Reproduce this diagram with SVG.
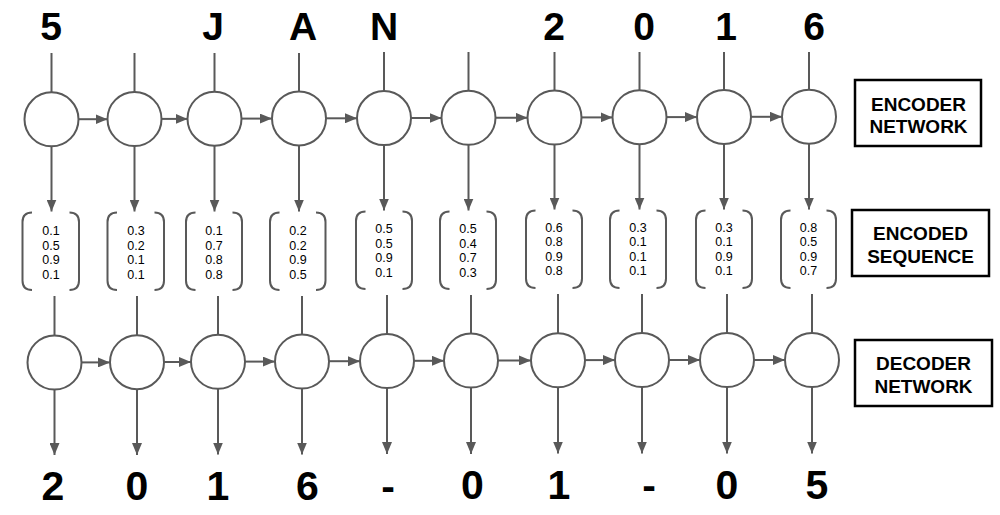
<svg xmlns="http://www.w3.org/2000/svg" width="1000" height="515" viewBox="0 0 1000 515">
  <style>
    .node{fill:#fff;stroke:#595959;stroke-width:2}
    .ln{stroke:#595959;stroke-width:2;fill:none}
    .arr{stroke:#595959;stroke-width:2;fill:none;marker-end:url(#ah)}
    .br{stroke:#595959;stroke-width:2;fill:none}
    .big{font-family:"Liberation Sans",Arial,sans-serif;font-weight:bold;fill:#000;text-anchor:middle}
    .top{font-size:39px}
    .bot{font-size:41px}
    .num{font-family:"Liberation Sans",Arial,sans-serif;font-size:12.5px;fill:#000;text-anchor:middle}
    .box{fill:#fff;stroke:#000;stroke-width:2.5}
    .lbl{font-family:"Liberation Sans",Arial,sans-serif;font-weight:bold;font-size:19px;fill:#000;text-anchor:middle}
  </style>
  <defs>
    <marker id="ah" markerUnits="userSpaceOnUse" markerWidth="12" markerHeight="10" refX="12" refY="5" orient="auto">
      <path d="M0,0 L12,5 L0,10 z" fill="#595959"/>
    </marker>
  </defs>
  <rect width="1000" height="515" fill="#fff"/>

  <!-- input labels -->
  <g id="inputs">
    <text class="big top" x="51" y="39.5">5</text>
    <text class="big top" x="213" y="39.5">J</text>
    <text class="big top" x="303" y="39.5">A</text>
    <text class="big top" x="384" y="39.5">N</text>
    <text class="big top" x="554" y="39.5">2</text>
    <text class="big top" x="644" y="39.5">0</text>
    <text class="big top" x="726" y="39.5">1</text>
    <text class="big top" x="814" y="39.5">6</text>
  </g>

  <!-- connectors -->
  <g id="connectors">
    <!-- input lines -->
    <line class="ln" x1="51.5" y1="53" x2="51.5" y2="92.3"/>
    <line class="ln" x1="134.5" y1="53" x2="134.5" y2="92"/>
    <line class="ln" x1="214.5" y1="53" x2="214.5" y2="91.7"/>
    <line class="ln" x1="299" y1="53" x2="299" y2="91.4"/>
    <line class="ln" x1="384" y1="52" x2="384" y2="91.1"/>
    <line class="ln" x1="468.5" y1="52" x2="468.5" y2="90.8"/>
    <line class="ln" x1="554.5" y1="52" x2="554.5" y2="90.5"/>
    <line class="ln" x1="639.5" y1="52" x2="639.5" y2="90.2"/>
    <line class="ln" x1="724" y1="52" x2="724" y2="89.9"/>
    <line class="ln" x1="809" y1="52" x2="809" y2="89.7"/>
    <!-- encoder horizontal -->
    <line class="arr" x1="78.5" y1="119.2" x2="107.5" y2="119.2"/>
    <line class="arr" x1="161.5" y1="118.9" x2="187.5" y2="118.9"/>
    <line class="arr" x1="241.5" y1="118.6" x2="272" y2="118.6"/>
    <line class="arr" x1="326" y1="118.3" x2="357" y2="118.3"/>
    <line class="arr" x1="411" y1="118" x2="441.5" y2="118"/>
    <line class="arr" x1="495.5" y1="117.7" x2="527.5" y2="117.7"/>
    <line class="arr" x1="581.5" y1="117.4" x2="612.5" y2="117.4"/>
    <line class="arr" x1="666.5" y1="117.1" x2="697" y2="117.1"/>
    <line class="arr" x1="751" y1="116.8" x2="782" y2="116.8"/>
    <!-- encoder to encoded sequence -->
    <line class="arr" x1="51.5" y1="146.3" x2="51.5" y2="211.5"/>
    <line class="arr" x1="134.5" y1="146" x2="134.5" y2="211.5"/>
    <line class="arr" x1="214.5" y1="145.7" x2="214.5" y2="211.5"/>
    <line class="arr" x1="299" y1="145.4" x2="299" y2="211.5"/>
    <line class="arr" x1="384" y1="145.1" x2="384" y2="210.5"/>
    <line class="arr" x1="468.5" y1="144.8" x2="468.5" y2="210.5"/>
    <line class="arr" x1="554.5" y1="144.5" x2="554.5" y2="209.5"/>
    <line class="arr" x1="639.5" y1="144.2" x2="639.5" y2="209.5"/>
    <line class="arr" x1="724" y1="143.9" x2="724" y2="209.5"/>
    <line class="arr" x1="809" y1="143.7" x2="809" y2="209.5"/>
    <!-- encoded sequence to decoder -->
    <line class="ln" x1="54.5" y1="296" x2="54.5" y2="335.5"/>
    <line class="ln" x1="137" y1="296" x2="137" y2="335.2"/>
    <line class="ln" x1="218" y1="296" x2="218" y2="334.8"/>
    <line class="ln" x1="302" y1="296" x2="302" y2="334.5"/>
    <line class="ln" x1="387" y1="295" x2="387" y2="334"/>
    <line class="ln" x1="471" y1="295" x2="471" y2="333.5"/>
    <line class="ln" x1="558" y1="294" x2="558" y2="333.3"/>
    <line class="ln" x1="642" y1="294" x2="642" y2="333"/>
    <line class="ln" x1="727" y1="294" x2="727" y2="333"/>
    <line class="ln" x1="812" y1="294" x2="812" y2="333"/>
    <!-- decoder horizontal -->
    <line class="arr" x1="81.5" y1="362.4" x2="110" y2="362.4"/>
    <line class="arr" x1="164" y1="362" x2="191" y2="362"/>
    <line class="arr" x1="245" y1="361.6" x2="275" y2="361.6"/>
    <line class="arr" x1="329" y1="361.2" x2="360" y2="361.2"/>
    <line class="arr" x1="414" y1="360.8" x2="444" y2="360.8"/>
    <line class="arr" x1="498" y1="360.4" x2="531" y2="360.4"/>
    <line class="arr" x1="585" y1="360.1" x2="615" y2="360.1"/>
    <line class="arr" x1="669" y1="360" x2="700" y2="360"/>
    <line class="arr" x1="754" y1="360" x2="785" y2="360"/>
    <!-- decoder outputs -->
    <line class="arr" x1="54.5" y1="389.5" x2="54.5" y2="455"/>
    <line class="arr" x1="137" y1="389.2" x2="137" y2="455"/>
    <line class="arr" x1="218" y1="388.8" x2="218" y2="454.5"/>
    <line class="arr" x1="302" y1="388.5" x2="302" y2="454.5"/>
    <line class="arr" x1="387" y1="388" x2="387" y2="454"/>
    <line class="arr" x1="471" y1="387.5" x2="471" y2="454"/>
    <line class="arr" x1="558" y1="387.3" x2="558" y2="453.5"/>
    <line class="arr" x1="642" y1="387" x2="642" y2="453.5"/>
    <line class="arr" x1="727" y1="387" x2="727" y2="453.5"/>
    <line class="arr" x1="812" y1="387" x2="812" y2="453.5"/>
  </g>

  <!-- encoder nodes -->
  <g id="encoder">
    <circle id="enc1" class="node" cx="51.5" cy="119.3" r="27"/>
    <circle id="enc2" class="node" cx="134.5" cy="119" r="27"/>
    <circle id="enc3" class="node" cx="214.5" cy="118.7" r="27"/>
    <circle id="enc4" class="node" cx="299" cy="118.4" r="27"/>
    <circle id="enc5" class="node" cx="384" cy="118.1" r="27"/>
    <circle id="enc6" class="node" cx="468.5" cy="117.8" r="27"/>
    <circle id="enc7" class="node" cx="554.5" cy="117.5" r="27"/>
    <circle id="enc8" class="node" cx="639.5" cy="117.2" r="27"/>
    <circle id="enc9" class="node" cx="724" cy="116.9" r="27"/>
    <circle id="enc10" class="node" cx="809" cy="116.7" r="27"/>
  </g>

  <!-- encoded vectors -->
  <g id="vec1">
    <path class="br" d="M32,212.5 Q22.5,212.5 22.5,222 V280.5 Q22.5,290 32,290 M69.5,212.5 Q79,212.5 79,222 V280.5 Q79,290 69.5,290"/>
    <text class="num" x="51" y="235">0.1</text><text class="num" x="51" y="249.5">0.5</text><text class="num" x="51" y="264">0.9</text><text class="num" x="51" y="278.5">0.1</text>
  </g>
  <g id="vec2">
    <path class="br" d="M117,212.5 Q107.5,212.5 107.5,222 V280.5 Q107.5,290 117,290 M154.5,212.5 Q164,212.5 164,222 V280.5 Q164,290 154.5,290"/>
    <text class="num" x="136" y="235">0.3</text><text class="num" x="136" y="249.5">0.2</text><text class="num" x="136" y="264">0.1</text><text class="num" x="136" y="278.5">0.1</text>
  </g>
  <g id="vec3">
    <path class="br" d="M195.5,212.5 Q186,212.5 186,222 V280.5 Q186,290 195.5,290 M232.5,212.5 Q242,212.5 242,222 V280.5 Q242,290 232.5,290"/>
    <text class="num" x="214" y="235">0.1</text><text class="num" x="214" y="249.5">0.7</text><text class="num" x="214" y="264">0.8</text><text class="num" x="214" y="278.5">0.8</text>
  </g>
  <g id="vec4">
    <path class="br" d="M279.5,212.5 Q270,212.5 270,222 V280.5 Q270,290 279.5,290 M316,212.5 Q325.5,212.5 325.5,222 V280.5 Q325.5,290 316,290"/>
    <text class="num" x="298" y="235">0.2</text><text class="num" x="298" y="249.5">0.2</text><text class="num" x="298" y="264">0.9</text><text class="num" x="298" y="278.5">0.5</text>
  </g>
  <g id="vec5">
    <path class="br" d="M365.5,211.5 Q356,211.5 356,221 V279.5 Q356,289 365.5,289 M402.5,211.5 Q412,211.5 412,221 V279.5 Q412,289 402.5,289"/>
    <text class="num" x="384" y="233.3">0.5</text><text class="num" x="384" y="247.8">0.5</text><text class="num" x="384" y="262.3">0.9</text><text class="num" x="384" y="276.8">0.1</text>
  </g>
  <g id="vec6">
    <path class="br" d="M449.5,211.5 Q440,211.5 440,221 V279.5 Q440,289 449.5,289 M486.5,211.5 Q496,211.5 496,221 V279.5 Q496,289 486.5,289"/>
    <text class="num" x="468" y="233.3">0.5</text><text class="num" x="468" y="247.8">0.4</text><text class="num" x="468" y="262.3">0.7</text><text class="num" x="468" y="276.8">0.3</text>
  </g>
  <g id="vec7">
    <path class="br" d="M535.5,210.5 Q526,210.5 526,220 V278.5 Q526,288 535.5,288 M572.5,210.5 Q582,210.5 582,220 V278.5 Q582,288 572.5,288"/>
    <text class="num" x="554" y="231.7">0.6</text><text class="num" x="554" y="246.2">0.8</text><text class="num" x="554" y="260.7">0.9</text><text class="num" x="554" y="275.2">0.8</text>
  </g>
  <g id="vec8">
    <path class="br" d="M619.5,210.5 Q610,210.5 610,220 V278.5 Q610,288 619.5,288 M656.5,210.5 Q666,210.5 666,220 V278.5 Q666,288 656.5,288"/>
    <text class="num" x="638" y="231.7">0.3</text><text class="num" x="638" y="246.2">0.1</text><text class="num" x="638" y="260.7">0.1</text><text class="num" x="638" y="275.2">0.1</text>
  </g>
  <g id="vec9">
    <path class="br" d="M705.5,210.5 Q696,210.5 696,220 V278.5 Q696,288 705.5,288 M742.5,210.5 Q752,210.5 752,220 V278.5 Q752,288 742.5,288"/>
    <text class="num" x="724" y="231.7">0.3</text><text class="num" x="724" y="246.2">0.1</text><text class="num" x="724" y="260.7">0.9</text><text class="num" x="724" y="275.2">0.1</text>
  </g>
  <g id="vec10">
    <path class="br" d="M790.5,210.5 Q781,210.5 781,220 V278.5 Q781,288 790.5,288 M826.5,210.5 Q836,210.5 836,220 V278.5 Q836,288 826.5,288"/>
    <text class="num" x="808.5" y="231.7">0.8</text><text class="num" x="808.5" y="246.2">0.5</text><text class="num" x="808.5" y="260.7">0.9</text><text class="num" x="808.5" y="275.2">0.7</text>
  </g>

  <!-- decoder nodes -->
  <g id="decoder">
    <circle id="dec1" class="node" cx="54.5" cy="362.5" r="27"/>
    <circle id="dec2" class="node" cx="137" cy="362.2" r="27"/>
    <circle id="dec3" class="node" cx="218" cy="361.8" r="27"/>
    <circle id="dec4" class="node" cx="302" cy="361.5" r="27"/>
    <circle id="dec5" class="node" cx="387" cy="361" r="27"/>
    <circle id="dec6" class="node" cx="471" cy="360.5" r="27"/>
    <circle id="dec7" class="node" cx="558" cy="360.3" r="27"/>
    <circle id="dec8" class="node" cx="642" cy="360" r="27"/>
    <circle id="dec9" class="node" cx="727" cy="360" r="27"/>
    <circle id="dec10" class="node" cx="812" cy="360" r="27"/>
  </g>

  <!-- output labels -->
  <g id="outputs">
    <text class="big bot" x="53" y="500">2</text>
    <text class="big bot" x="137" y="500">0</text>
    <text class="big bot" x="218" y="500">1</text>
    <text class="big bot" x="307.5" y="500">6</text>
    <text class="big bot" x="388" y="500">-</text>
    <text class="big bot" x="472.5" y="499">0</text>
    <text class="big bot" x="559" y="499">1</text>
    <text class="big bot" x="649" y="499">-</text>
    <text class="big bot" x="727" y="499">0</text>
    <text class="big bot" x="817" y="499">5</text>
  </g>

  <!-- side labels -->
  <g id="label-encoder">
    <rect class="box" x="855" y="80" width="126" height="66"/>
    <text class="lbl" x="918.5" y="110.5">ENCODER</text>
    <text class="lbl" x="918.5" y="132.5">NETWORK</text>
  </g>
  <g id="label-encoded">
    <rect class="box" x="852" y="210" width="137" height="66"/>
    <text class="lbl" x="920.5" y="240">ENCODED</text>
    <text class="lbl" x="920.5" y="262.5">SEQUENCE</text>
  </g>
  <g id="label-decoder">
    <rect class="box" x="855" y="340" width="137" height="66"/>
    <text class="lbl" x="923.5" y="370">DECODER</text>
    <text class="lbl" x="923.5" y="392.5">NETWORK</text>
  </g>
</svg>
